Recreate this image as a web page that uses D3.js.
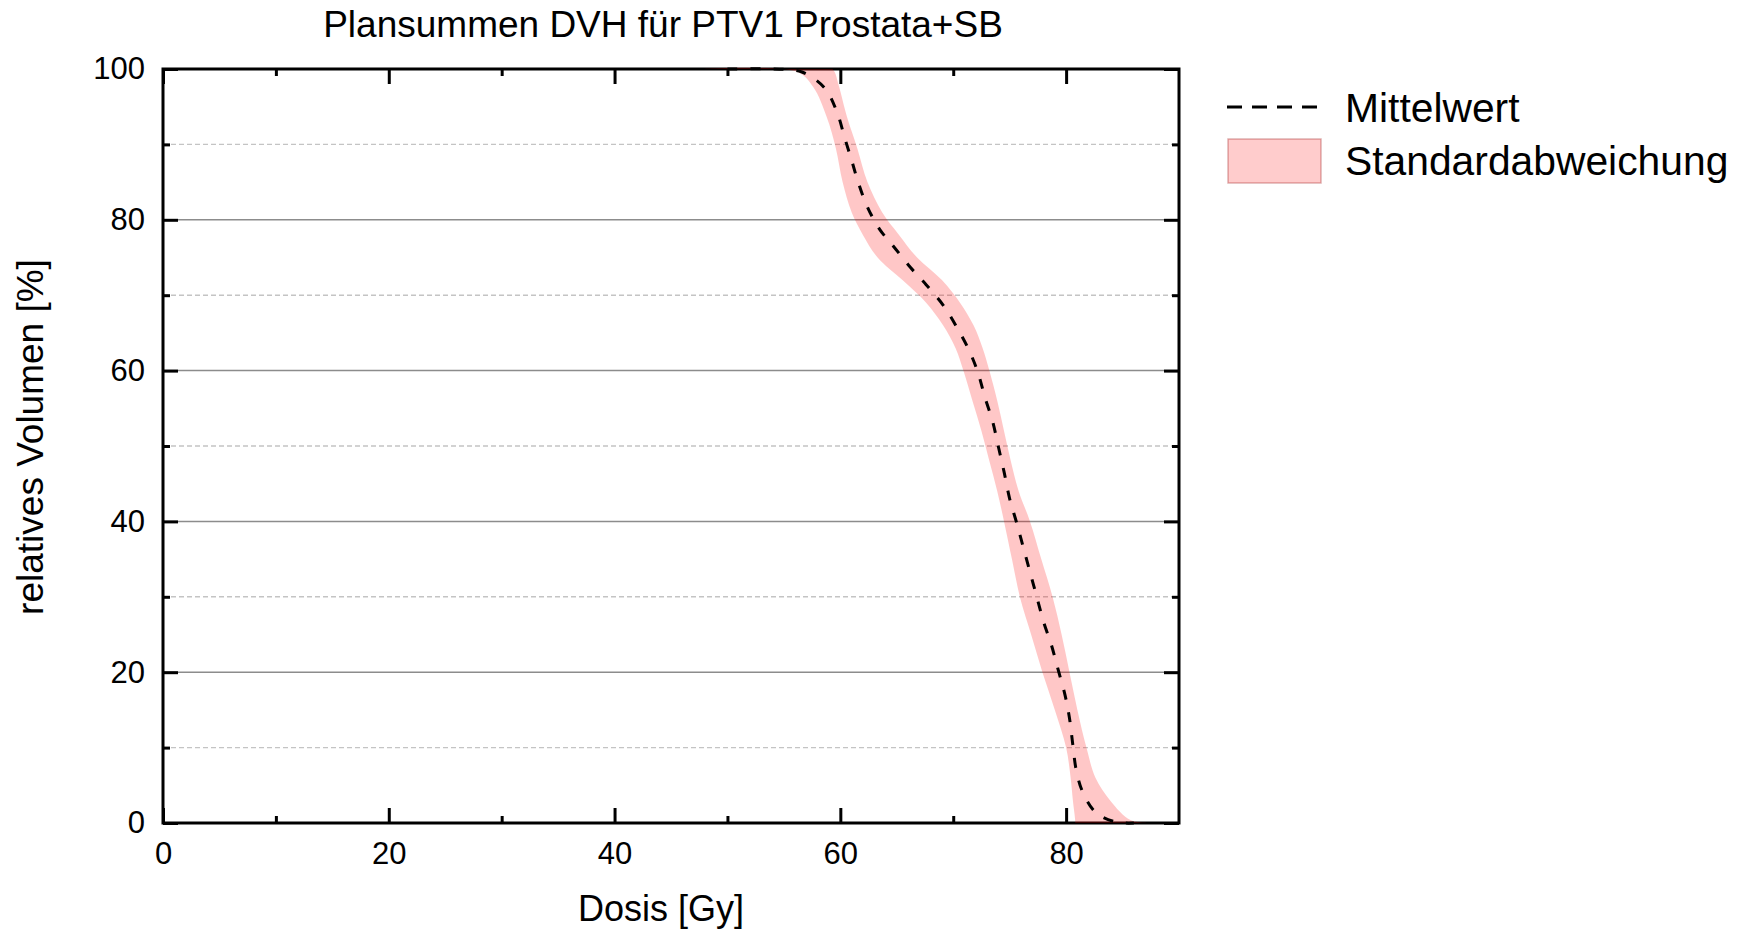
<!DOCTYPE html>
<html>
<head>
<meta charset="utf-8">
<script src="https://cdn.jsdelivr.net/npm/d3@7"></script>
<style>
  html, body { margin: 0; padding: 0; background: #fff; }
  svg { display: block; font-family: "Liberation Sans", Arial, sans-serif; }
</style>
</head>
<body>
<svg id="chart" width="1752" height="934"></svg>
<script>
// Mean dose-volume histogram (dose in Gy, relative volume in %)
const meanDose = [50, 55, 56.6, 58.6, 59.7, 60.4, 61.0, 61.6, 62.4, 63.5, 64.7, 66.2, 67.6, 69.1, 70.3,
  71.4, 72.2, 72.8, 73.5, 74.0, 74.5, 75.0, 75.6, 76.2, 76.8, 77.4, 78.0, 78.7, 79.3, 79.9, 80.3,
  80.6, 80.9, 81.5, 82.7, 84.5, 86.0];
const meanVol = [100, 99.95, 99.6, 97.5, 94.3, 90.8, 87.9, 84.9, 81.7, 78.7, 76.5, 73.7, 71.4, 68.7, 65.8,
  62.7, 59.7, 56.5, 53.2, 49.9, 46.6, 43.0, 39.9, 36.6, 33.3, 30.0, 26.7, 23.6, 20.3, 17.0, 13.9,
  10.3, 7.0, 4.0, 1.3, 0.1, 0];

// Standard deviation band: dose bounds at each volume level
const bandVol = [100, 99.6, 97.6, 93.6, 89.5, 85, 81, 78, 75, 72, 69, 66, 63, 60, 56, 52, 48, 44, 40,
  35, 30, 25, 20, 15, 10, 6, 3, 0.4, 0];
const bandLow = [47.6, 56.2, 57.6, 58.8, 59.6, 60.2, 61.0, 62.0, 63.3, 65.5, 67.6, 69.1, 70.2, 70.9, 71.7,
  72.5, 73.2, 73.9, 74.5, 75.2, 75.9, 76.9, 77.9, 79.0, 80.0, 80.4, 80.6, 80.8, 80.8];
const bandHigh = [59.3, 59.5, 59.9, 60.6, 61.5, 62.4, 63.7, 65.2, 66.8, 69.0, 70.6, 71.8, 72.6, 73.2, 73.9,
  74.5, 75.1, 75.8, 76.8, 77.8, 78.8, 79.6, 80.3, 81.0, 81.8, 82.6, 83.9, 85.7, 87.4];

// Axis ticks
const doseMajor = [0, 20, 40, 60, 80];
const doseMinor = [10, 30, 50, 70];
const volMajor = [0, 20, 40, 60, 80, 100];
const volMinor = [10, 30, 50, 70, 90];

const titleText = "Plansummen DVH für PTV1 Prostata+SB";
const xLabel = "Dosis [Gy]";
const yLabel = "relatives Volumen [%]";
const legendLabels = ["Mittelwert", "Standardabweichung"];

const svg = d3.select("#chart");
const plot = { left: 163, right: 1179, top: 69, bottom: 823 };

const x = d3.scaleLinear().domain([0, 90]).range([plot.left, plot.right]);
const y = d3.scaleLinear().domain([0, 100]).range([plot.bottom, plot.top]);

// Horizontal gridlines
svg.append("g").selectAll("line").data(volMinor).join("line")
  .attr("x1", plot.left).attr("x2", plot.right)
  .attr("y1", d => y(d)).attr("y2", d => y(d))
  .attr("stroke", "#c4c4c4").attr("stroke-width", 1.4).attr("stroke-dasharray", "5,3");
svg.append("g").selectAll("line").data(volMajor.filter(v => v > 0 && v < 100)).join("line")
  .attr("x1", plot.left).attr("x2", plot.right)
  .attr("y1", d => y(d)).attr("y2", d => y(d))
  .attr("stroke", "#8c8c8c").attr("stroke-width", 1.5);

// Frame
svg.append("rect")
  .attr("x", plot.left).attr("y", plot.top)
  .attr("width", plot.right - plot.left).attr("height", plot.bottom - plot.top)
  .attr("fill", "none").attr("stroke", "#000").attr("stroke-width", 3);

// Axes with inward ticks on all four sides
function styleAxis(g) {
  g.select(".domain").remove();
  g.selectAll(".tick line").attr("stroke", "#000").attr("stroke-width", 3);
}
const tickFont = 31;
const labelStyle = g => g.selectAll("text").attr("font-size", tickFont).attr("fill", "#000")
  .attr("font-family", "Liberation Sans, Arial, sans-serif");

svg.append("g").attr("transform", `translate(0,${plot.bottom})`)
  .call(d3.axisBottom(x).tickValues(doseMajor).tickSize(-15).tickPadding(19).tickFormat(d3.format("d")))
  .call(styleAxis).call(labelStyle);
svg.append("g").attr("transform", `translate(0,${plot.bottom})`)
  .call(d3.axisBottom(x).tickValues(doseMinor).tickSize(-7).tickFormat(""))
  .call(styleAxis);
svg.append("g").attr("transform", `translate(0,${plot.top})`)
  .call(d3.axisTop(x).tickValues(doseMajor).tickSize(-15).tickFormat(""))
  .call(styleAxis);
svg.append("g").attr("transform", `translate(0,${plot.top})`)
  .call(d3.axisTop(x).tickValues(doseMinor).tickSize(-7).tickFormat(""))
  .call(styleAxis);

svg.append("g").attr("transform", `translate(${plot.left},0)`)
  .call(d3.axisLeft(y).tickValues(volMajor).tickSize(-15).tickPadding(18).tickFormat(d3.format("d")))
  .call(styleAxis).call(labelStyle);
svg.append("g").attr("transform", `translate(${plot.left},0)`)
  .call(d3.axisLeft(y).tickValues(volMinor).tickSize(-7).tickFormat(""))
  .call(styleAxis);
svg.append("g").attr("transform", `translate(${plot.right},0)`)
  .call(d3.axisRight(y).tickValues(volMajor).tickSize(-15).tickFormat(""))
  .call(styleAxis);
svg.append("g").attr("transform", `translate(${plot.right},0)`)
  .call(d3.axisRight(y).tickValues(volMinor).tickSize(-7).tickFormat(""))
  .call(styleAxis);

// Standard deviation band (translucent)
const bandData = bandVol.map((v, i) => ({ v, lo: bandLow[i], hi: bandHigh[i] }));
const area = d3.area()
  .y(d => y(d.v))
  .x0(d => x(d.lo))
  .x1(d => x(d.hi))
  .curve(d3.curveCatmullRom.alpha(0.5));
svg.append("path").datum(bandData)
  .attr("d", area)
  .attr("fill", "rgba(255,0,0,0.22)");

// Mean curve
const meanData = meanDose.map((d, i) => ({ d, v: meanVol[i] }));
const line = d3.line()
  .x(p => x(p.d))
  .y(p => y(p.v))
  .curve(d3.curveCatmullRom.alpha(0.5));
svg.append("path").datum(meanData)
  .attr("d", line)
  .attr("fill", "none")
  .attr("stroke", "#000")
  .attr("stroke-width", 3)
  .attr("stroke-dasharray", "10,13");

// Title and axis labels
svg.append("text")
  .attr("x", 663).attr("y", 37)
  .attr("text-anchor", "middle").attr("font-size", 37).attr("fill", "#000")
  .text(titleText);
svg.append("text")
  .attr("x", 661).attr("y", 921)
  .attr("text-anchor", "middle").attr("font-size", 36).attr("fill", "#000")
  .text(xLabel);
svg.append("text")
  .attr("transform", "translate(43,437) rotate(-90)")
  .attr("text-anchor", "middle").attr("font-size", 37).attr("fill", "#000")
  .text(yLabel);

// Legend
const legend = svg.append("g");
legend.append("line")
  .attr("x1", 1227).attr("x2", 1318).attr("y1", 107).attr("y2", 107)
  .attr("stroke", "#000").attr("stroke-width", 3).attr("stroke-dasharray", "15,10");
legend.append("rect")
  .attr("x", 1228).attr("y", 139).attr("width", 93).attr("height", 44)
  .attr("fill", "rgba(255,0,0,0.2)")
  .attr("stroke", "rgba(150,0,0,0.3)").attr("stroke-width", 1.5);
legend.selectAll("text.lg").data(legendLabels).join("text")
  .attr("class", "lg")
  .attr("x", 1345).attr("y", (d, i) => 122 + i * 53)
  .attr("font-size", 40.8).attr("fill", "#000")
  .text(d => d);
</script>
</body>
</html>
